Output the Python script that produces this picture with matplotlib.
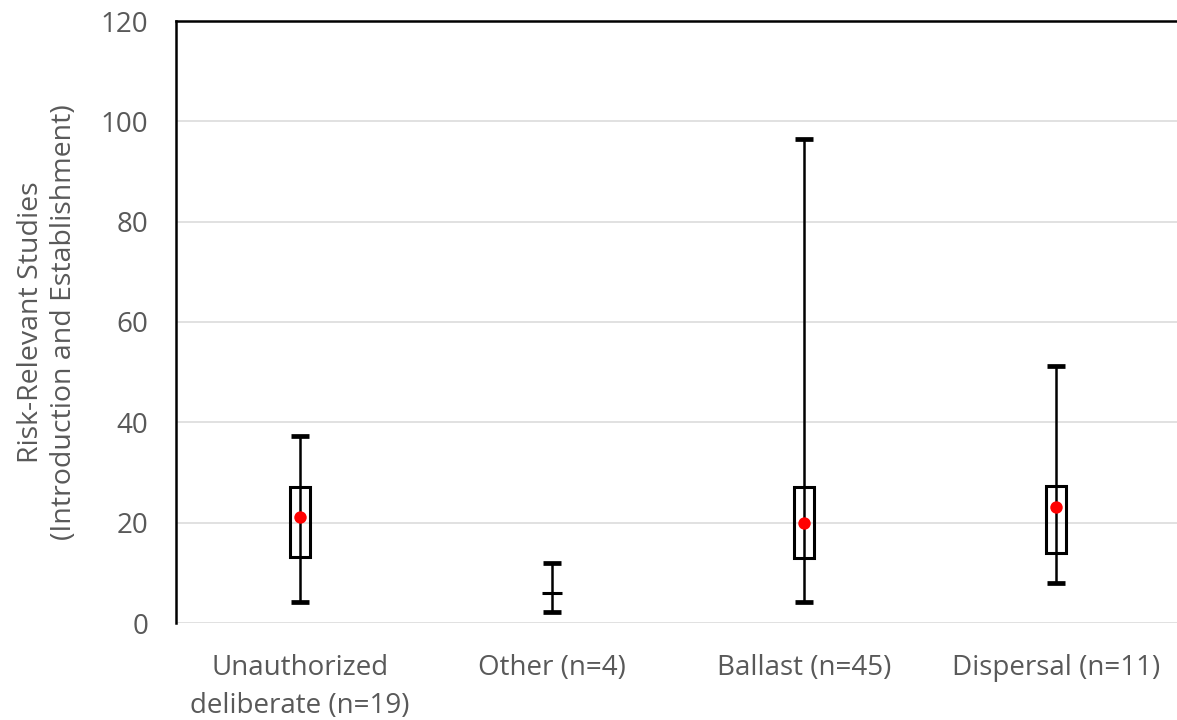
import numpy as np
import matplotlib
matplotlib.use("Agg")
import matplotlib.pyplot as plt

# values
categories = ["Unauthorized\ndeliberate (n=19)", "Other (n=4)", "Ballast (n=45)", "Dispersal (n=11)"]
high = [37.2, 11.9, 96.5, 51.2]
low = [4.1, 2.1, 4.1, 8.0]
q3 = [27.2, 6.0, 27.1, 27.3]
q1 = [13.1, 6.0, 13.0, 13.9]
mean = [21.1, np.nan, 19.9, 23.2]
yticks = [0, 20, 40, 60, 80, 100, 120]

plt.rcParams['font.family'] = ['Open Sans', 'DejaVu Sans']
gray = '#595959'

fig = plt.figure(figsize=(11.77, 7.2), dpi=100)
ax = fig.add_axes([176/1177, 97/720, 1001/1177, 602/720])

x = np.arange(len(categories))
mid = np.array(q1)

# whiskers with caps
ax.errorbar(x, mid, yerr=[mid - np.array(low), np.array(high) - mid], fmt='none',
            ecolor='black', elinewidth=1.8, capsize=6.8, capthick=3.4, zorder=3)
# boxes
ax.bar(x, np.array(q3) - np.array(q1), bottom=q1, width=0.078, fill=False,
       edgecolor='black', linewidth=2.2, zorder=4)
# means
ax.scatter(x, mean, s=80, color='#ff0000', zorder=5, linewidths=0)

ax.set_xlim(-0.492, 3.48)
ax.set_ylim(0, 120)
ax.set_yticks(yticks)
ax.set_xticks(x)
ax.set_xticklabels(categories, linespacing=1.5)
ax.tick_params(length=0, labelsize=20, labelcolor=gray)
ax.tick_params(axis='y', pad=20)
ax.tick_params(axis='x', pad=22)

ax.grid(axis='y', color='#d9d9d9', linewidth=1.1, zorder=0)
ax.set_axisbelow(True)
for s in ['right', 'bottom']:
    ax.spines[s].set_visible(False)
for s in ['left', 'top']:
    ax.spines[s].set_linewidth(1.8)
    ax.spines[s].set_color('black')

ax.set_ylabel("Risk-Relevant Studies\n(Introduction and Establishment)", fontsize=20.5,
              color=gray, linespacing=1.25, labelpad=16)

fig.savefig("out.png", dpi=100)
